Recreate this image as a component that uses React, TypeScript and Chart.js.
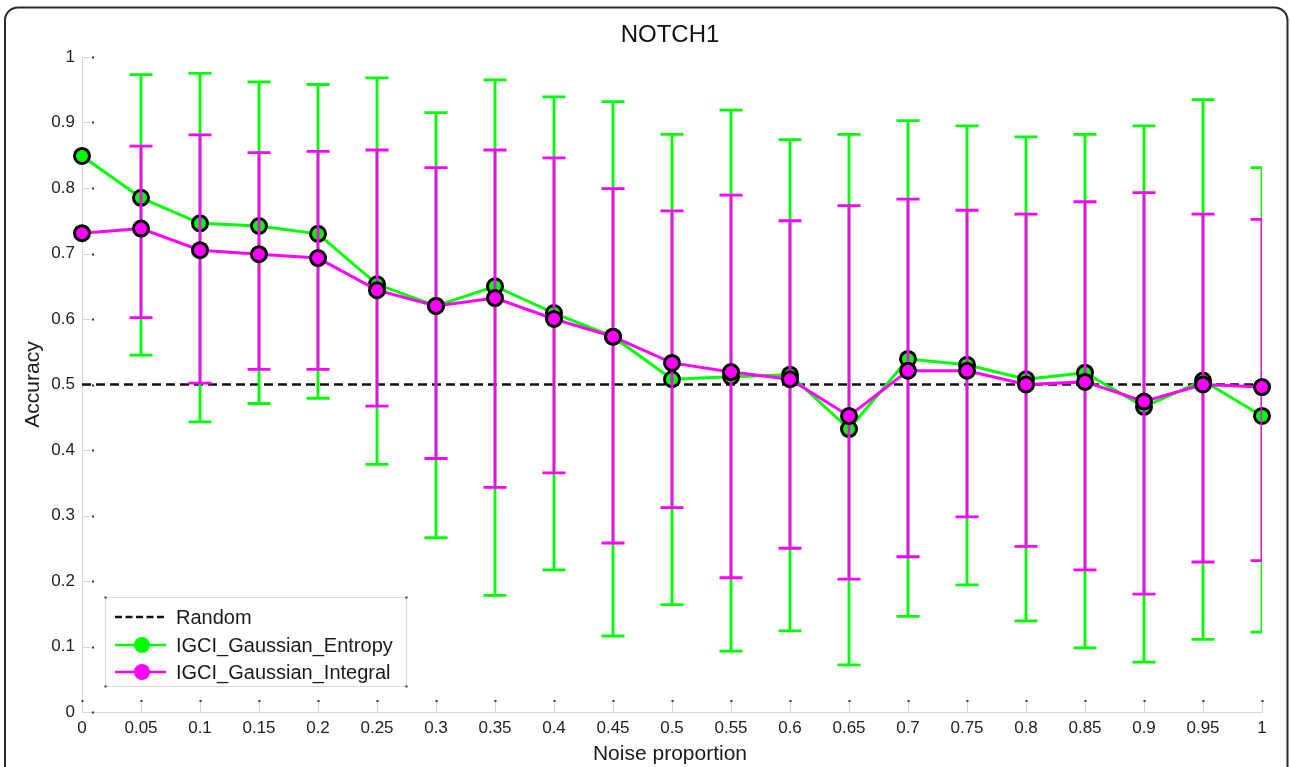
import React, { useEffect, useRef } from "react";
import { Chart, registerables } from "chart.js";

Chart.register(...registerables);

const FONT = "'Liberation Sans', Arial, Helvetica, sans-serif";

const chartTitle = "NOTCH1";
const xAxisTitle = "Noise proportion";
const yAxisTitle = "Accuracy";

const noise = [0, 0.05, 0.1, 0.15, 0.2, 0.25, 0.3, 0.35, 0.4, 0.45, 0.5, 0.55, 0.6, 0.65, 0.7, 0.75, 0.8, 0.85, 0.9, 0.95, 1];
const xTickLabels = ["0", "0.05", "0.1", "0.15", "0.2", "0.25", "0.3", "0.35", "0.4", "0.45", "0.5", "0.55", "0.6", "0.65", "0.7", "0.75", "0.8", "0.85", "0.9", "0.95", "1"];
const yTickValues = [0, 0.1, 0.2, 0.3, 0.4, 0.5, 0.6, 0.7, 0.8, 0.9, 1];
const yTickLabels = ["0", "0.1", "0.2", "0.3", "0.4", "0.5", "0.6", "0.7", "0.8", "0.9", "1"];

const randomLevel = 0.5;

const entropyMean = [0.849, 0.785, 0.746, 0.742, 0.73, 0.653, 0.62, 0.65, 0.609, 0.573, 0.508, 0.512, 0.515, 0.432, 0.539, 0.53, 0.508, 0.518, 0.466, 0.506, 0.452];
const entropyUpper = [null, 0.973, 0.975, 0.962, 0.958, 0.968, 0.915, 0.965, 0.939, 0.932, 0.882, 0.919, 0.874, 0.882, 0.903, 0.895, 0.878, 0.882, 0.895, 0.935, 0.831];
const entropyLower = [null, 0.545, 0.443, 0.471, 0.479, 0.378, 0.266, 0.178, 0.217, 0.116, 0.164, 0.093, 0.124, 0.072, 0.146, 0.194, 0.139, 0.098, 0.076, 0.111, 0.122];

const integralMean = [0.731, 0.738, 0.705, 0.699, 0.693, 0.644, 0.62, 0.632, 0.6, 0.573, 0.533, 0.519, 0.508, 0.452, 0.521, 0.521, 0.5, 0.504, 0.474, 0.5, 0.496];
const integralUpper = [null, 0.864, 0.881, 0.854, 0.856, 0.858, 0.831, 0.858, 0.846, 0.799, 0.765, 0.789, 0.75, 0.773, 0.783, 0.766, 0.76, 0.779, 0.793, 0.76, 0.752];
const integralLower = [null, 0.602, 0.502, 0.523, 0.523, 0.467, 0.387, 0.343, 0.365, 0.258, 0.312, 0.205, 0.25, 0.203, 0.237, 0.298, 0.253, 0.217, 0.18, 0.229, 0.231];

const GREEN = "#00ff00";
const MAGENTA = "#ff00ff";

const legendItems = [
  { label: "Random", color: "#111111", dashed: true, marker: false },
  { label: "IGCI_Gaussian_Entropy", color: GREEN, dashed: false, marker: true },
  { label: "IGCI_Gaussian_Integral", color: MAGENTA, dashed: false, marker: true },
];

const errorBarPlugin = {
  id: "errorBars",
  beforeDatasetDraw(chart: any, args: any) {
    const ds: any = chart.data.datasets[args.index];
    if (!ds.errUpper) return;
    const xs = chart.scales.x;
    const ys = chart.scales.y;
    const ctx = chart.ctx;
    const ca = chart.chartArea;
    ctx.save();
    ctx.beginPath();
    ctx.rect(ca.left - 20, ca.top - 20, ca.right - ca.left + 20, ca.bottom - ca.top + 40);
    ctx.clip();
    ctx.strokeStyle = ds.borderColor;
    ctx.lineWidth = 2.8;
    ctx.lineCap = "butt";
    const cap = 11.5;
    ds.data.forEach((p: any, i: number) => {
      const up = ds.errUpper[i];
      const lo = ds.errLower[i];
      if (up == null || lo == null) return;
      const px = xs.getPixelForValue(p.x);
      const pu = ys.getPixelForValue(up);
      const pl = ys.getPixelForValue(lo);
      ctx.beginPath();
      ctx.moveTo(px, pu);
      ctx.lineTo(px, pl);
      ctx.moveTo(px - cap, pu);
      ctx.lineTo(px + cap, pu);
      ctx.moveTo(px - cap, pl);
      ctx.lineTo(px + cap, pl);
      ctx.stroke();
    });
    ctx.restore();
  },
};

const decorPlugin = {
  id: "decor",
  beforeDraw(chart: any) {
    const ctx = chart.ctx;
    ctx.save();
    ctx.fillStyle = "#ffffff";
    ctx.fillRect(0, 0, chart.width, chart.height);
    const x0 = 5, y0 = 7.5, x1 = 1287.5, y1 = 800, r = 13;
    ctx.beginPath();
    ctx.moveTo(x0 + r, y0);
    ctx.lineTo(x1 - r, y0);
    ctx.arcTo(x1, y0, x1, y0 + r, r);
    ctx.lineTo(x1, y1);
    ctx.lineTo(x0, y1);
    ctx.lineTo(x0, y0 + r);
    ctx.arcTo(x0, y0, x0 + r, y0, r);
    ctx.closePath();
    ctx.strokeStyle = "#2a2a2a";
    ctx.lineWidth = 2;
    ctx.stroke();
    ctx.restore();
  },
  beforeDatasetsDraw(chart: any) {
    const ctx = chart.ctx;
    const ca = chart.chartArea;
    const xs = chart.scales.x;
    const ys = chart.scales.y;
    ctx.save();
    ys.ticks.forEach((t: any) => {
      const py = Math.round(ys.getPixelForValue(t.value)) + 0.5;
      ctx.strokeStyle = "#d6d6d6";
      ctx.lineWidth = 1;
      ctx.beginPath();
      ctx.moveTo(ca.left, py);
      ctx.lineTo(ca.left + 9, py);
      ctx.stroke();
      ctx.fillStyle = "#333";
      ctx.fillRect(ca.left + 10, py - 1, 2, 2);
    });
    xs.ticks.forEach((t: any) => {
      const px = Math.round(xs.getPixelForValue(t.value)) + 0.5;
      ctx.strokeStyle = "#d6d6d6";
      ctx.lineWidth = 1;
      ctx.beginPath();
      ctx.moveTo(px, ca.bottom);
      ctx.lineTo(px, ca.bottom - 10);
      ctx.stroke();
      ctx.fillStyle = "#333";
      ctx.fillRect(px - 1, ca.bottom - 12, 2, 2);
    });
    ctx.restore();
  },
  afterDraw(chart: any) {
    const ctx = chart.ctx;
    const ca = chart.chartArea;
    ctx.save();
    ctx.fillStyle = "#111";
    ctx.font = `24px ${FONT}`;
    ctx.textAlign = "center";
    ctx.textBaseline = "alphabetic";
    ctx.fillText(chartTitle, (ca.left + ca.right) / 2 - 2, 42);
    ctx.font = `21px ${FONT}`;
    ctx.fillStyle = "#1a1a1a";
    ctx.fillText(xAxisTitle, (ca.left + ca.right) / 2 - 2, 760);
    ctx.save();
    ctx.translate(38.5, (ca.top + ca.bottom) / 2);
    ctx.rotate(-Math.PI / 2);
    ctx.fillText(yAxisTitle, 0, 0);
    ctx.restore();

    const lx0 = 105.5, ly0 = 597.5, lx1 = 406.5, ly1 = 686.5;
    ctx.fillStyle = "#ffffff";
    ctx.fillRect(lx0, ly0, lx1 - lx0, ly1 - ly0);
    ctx.strokeStyle = "#d9d9d9";
    ctx.lineWidth = 1;
    ctx.strokeRect(lx0, ly0, lx1 - lx0, ly1 - ly0);
    ctx.fillStyle = "#333";
    [[lx0, ly0], [lx1, ly0], [lx1, ly1], [lx0, ly1]].forEach(([cx, cy]) => {
      ctx.fillRect(cx - 1, cy - 1, 2, 2);
    });
    const rows = [617, 645, 672];
    const baselines = [623.5, 651.5, 678.5];
    legendItems.forEach((it, i) => {
      const y = rows[i];
      ctx.save();
      ctx.strokeStyle = it.color;
      ctx.lineWidth = it.dashed ? 2.4 : 2.6;
      if (it.dashed) ctx.setLineDash([7, 3.5]);
      ctx.beginPath();
      ctx.moveTo(115, y);
      ctx.lineTo(166, y);
      ctx.stroke();
      ctx.restore();
      if (it.marker) {
        ctx.beginPath();
        ctx.arc(142, y, 8, 0, Math.PI * 2);
        ctx.fillStyle = it.color;
        ctx.fill();
      }
      ctx.fillStyle = "#1a1a1a";
      ctx.font = `20px ${FONT}`;
      ctx.textAlign = "left";
      ctx.textBaseline = "alphabetic";
      ctx.fillText(it.label, 176, baselines[i]);
    });
    ctx.restore();
  },
};

function toPoints(ys: number[]) {
  return noise.map((x, i) => ({ x, y: ys[i] }));
}

export default function App() {
  const canvasRef = useRef<HTMLCanvasElement | null>(null);

  useEffect(() => {
    document.body.style.margin = "0";
    const canvas = canvasRef.current;
    if (!canvas) return;
    const chart = new Chart(canvas, {
      type: "line",
      data: {
        datasets: [
          {
            label: "Random",
            data: [
              { x: noise[0], y: randomLevel },
              { x: noise[noise.length - 1], y: randomLevel },
            ],
            borderColor: "#111111",
            borderWidth: 2.6,
            borderDash: [9, 5],
            pointRadius: 0,
            order: 3,
            clip: false,
          } as any,
          {
            label: "IGCI_Gaussian_Entropy",
            data: toPoints(entropyMean),
            errUpper: entropyUpper,
            errLower: entropyLower,
            borderColor: GREEN,
            backgroundColor: GREEN,
            borderWidth: 3,
            pointRadius: 7.5,
            pointBackgroundColor: GREEN,
            pointBorderColor: "#000000",
            pointBorderWidth: 3,
            order: 2,
            clip: false,
          } as any,
          {
            label: "IGCI_Gaussian_Integral",
            data: toPoints(integralMean),
            errUpper: integralUpper,
            errLower: integralLower,
            borderColor: MAGENTA,
            backgroundColor: MAGENTA,
            borderWidth: 3,
            pointRadius: 7.5,
            pointBackgroundColor: MAGENTA,
            pointBorderColor: "#000000",
            pointBorderWidth: 3,
            order: 1,
            clip: false,
          } as any,
        ],
      },
      options: {
        responsive: false,
        animation: false,
        devicePixelRatio: 1,
        layout: { padding: { top: 57, right: 28, left: 0, bottom: 0 } },
        plugins: {
          legend: { display: false },
          tooltip: { enabled: false },
          title: { display: false },
        },
        elements: { line: { tension: 0 } },
        scales: {
          x: {
            type: "linear",
            min: 0,
            max: 1,
            afterBuildTicks: (s: any) => {
              s.ticks = noise.map((v) => ({ value: v }));
            },
            afterFit: (s: any) => {
              s.height = 55;
            },
            ticks: {
              callback: (_v: any, i: number) => xTickLabels[i],
              font: { family: FONT, size: 17 },
              color: "#222",
              padding: 6,
              maxRotation: 0,
              autoSkip: false,
            },
            grid: { display: false, drawTicks: false },
            border: { display: true, color: "#d6d6d6", width: 1 },
          },
          y: {
            type: "linear",
            min: 0,
            max: 1,
            afterBuildTicks: (s: any) => {
              s.ticks = yTickValues.map((v) => ({ value: v }));
            },
            afterFit: (s: any) => {
              s.width = 82;
            },
            ticks: {
              callback: (_v: any, i: number) => yTickLabels[i],
              font: { family: FONT, size: 17 },
              color: "#222",
              padding: 7,
              autoSkip: false,
            },
            grid: { display: false, drawTicks: false },
            border: { display: true, color: "#d6d6d6", width: 1 },
          },
        },
      },
      plugins: [decorPlugin, errorBarPlugin],
    } as any);
    return () => chart.destroy();
  }, []);

  return (
    <div style={{ position: "fixed", left: 0, top: 0, width: 1290, height: 767, background: "#fff" }}>
      <canvas ref={canvasRef} width={1290} height={767} style={{ display: "block" }} />
    </div>
  );
}
